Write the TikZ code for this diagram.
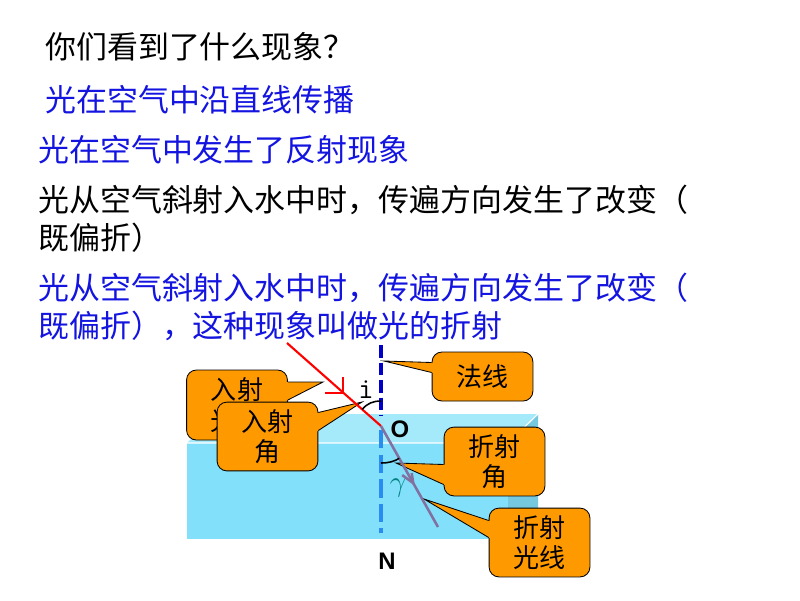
\documentclass[tikz,border=0pt]{standalone}
\usepackage{fontspec}
\setsansfont{Liberation Sans}
\newfontfamily\cjk{Noto Sans CJK SC}
\usetikzlibrary{calc}

\definecolor{calloutorange}{RGB}{255,153,0}
\definecolor{textblue}{RGB}{20,20,225}
\definecolor{waterfront}{RGB}{130,224,250}
\definecolor{watertop}{RGB}{165,234,250}
\definecolor{waterside}{RGB}{118,200,222}
\definecolor{normaldark}{RGB}{0,0,200}
\definecolor{normallight}{RGB}{40,140,240}
\definecolor{refractray}{RGB}{130,112,160}
\definecolor{gammateal}{RGB}{0,128,128}

% wedge of a callout: tip, then the two points on the box edge
\newcommand{\callpointer}[3]{%
  \fill[calloutorange] (#1) -- ($(#1)!1.12!(#2)$) -- ($(#1)!1.12!(#3)$) -- cycle;
  \draw[black,line width=0.6pt] (#2) -- (#1) -- (#3);
}

\begin{document}
\begin{tikzpicture}[x=0.025cm,y=-0.025cm,
    maintext/.style={anchor=west,inner sep=0pt,align=left,font=\cjk\fontsize{22}{27}\selectfont},
    callbox/.style={draw=black,line width=0.6pt,fill=calloutorange,rounded corners=7pt,
      minimum width=2.52cm,minimum height=1.72cm,inner sep=0pt,align=center,
      font=\cjk\fontsize{18.5}{21.5}\selectfont},
    normalline/.style={line width=2.3pt},
    incray/.style={red,line width=1.5pt},
    refray/.style={refractray,line width=1.8pt},
    anglearc/.style={black,line width=1.1pt},
    axislabel/.style={font=\sffamily\bfseries\fontsize{17}{20}\selectfont}]

    \fill[white] (0,0) rectangle (800,600);
    \useasboundingbox (0,0) rectangle (800,600);

    \node (q1) at (45,47) [maintext] {你们看到了什么现象？};
    \node (a1) at (45,100) [maintext,text=textblue] {光在空气中沿直线传播};
    \node (a2) at (38,150) [maintext,text=textblue] {光在空气中发生了反射现象};
    \node (a3) at (38,219) [maintext] {光从空气斜射入水中时，传遍方向发生了改变（\\既偏折）};
    \node (a4) at (38,306.5) [maintext,text=textblue] {光从空气斜射入水中时，传遍方向发生了改变（\\既偏折），这种现象叫做光的折射};

    % the water
    \fill[waterfront] (187,443) rectangle (508,539);
    \fill[watertop] (187,443) -- (217,414) -- (538,414) -- (508,443) -- cycle;
    \fill[waterside] (508,443) -- (538,414) -- (538,510) -- (508,539) -- cycle;
    \draw[white,line width=0.8pt] (187,443) -- (508,443) -- (538,414);

    % callouts
    \node (rsgx) at (237,405) [callbox,minimum height=1.75cm] {入射\\光线};
    \coordinate (rsgxtip) at (323,382);
    \coordinate (rsgxa) at ($(rsgx.east)+(0,-23)$);
    \coordinate (rsgxb) at ($(rsgx.east)+(0,-5)$);
    \callpointer{rsgxtip}{rsgxa}{rsgxb}

    \node (rsj) at (267.5,436.5) [callbox] {入射\\角};
    \coordinate (rsjtip) at (362,402);
    \coordinate (rsja) at ($(rsj.east)+(0,-24)$);
    \coordinate (rsjb) at ($(rsj.east)+(0,-6)$);
    \callpointer{rsjtip}{rsja}{rsjb}

    \node (fx) at (482.5,376.5) [callbox,minimum height=1.225cm] {法线};
    \coordinate (fxtip) at (384,361);
    \coordinate (fxa) at ($(fx.west)+(0,-14)$);
    \coordinate (fxb) at ($(fx.west)+(0,-4)$);
    \callpointer{fxtip}{fxa}{fxb}

    \node (zsj) at (494.5,461.5) [callbox] {折射\\角};
    \coordinate (zsjtip) at (396,463);
    \coordinate (zsja) at ($(zsj.west)+(0,3)$);
    \coordinate (zsjb) at ($(zsj.west)+(0,23)$);
    \callpointer{zsjtip}{zsja}{zsjb}

    \node (zsgx) at (539.5,542.5) [callbox] {折射\\光线};
    \coordinate (zsgxtip) at (424,499);
    \coordinate (zsgxa) at ($(zsgx.west)+(0,-22)$);
    \coordinate (zsgxb) at ($(zsgx.west)+(0,-5)$);
    \callpointer{zsgxtip}{zsgxa}{zsgxb}

    % the normal
    \coordinate (O) at (381,426);
    \coordinate (ntop) at (381,345);
    \coordinate (nsurf) at (381,416);
    \coordinate (nwater) at (381,430);
    \coordinate (nbot) at (381,533);
    \draw[normalline,normaldark,dash pattern=on 9pt off 3.5pt] (ntop) -- (nsurf);
    \draw[normalline,normallight,dash pattern=on 13pt off 4.5pt] (nwater) -- (nbot);

    % the rays
    \coordinate (rs) at (287,343);
    \coordinate (re) at (438,527);
    \draw[incray] (rs) -- (O);
    \draw[refray] (O) -- (re);
    \coordinate (rtip) at ($(rs)!0.6!(O)$);
    \draw[incray] ($(rtip)+(-18,0)$) -- (rtip) -- ($(rtip)+(0,-16)$);
    \coordinate (gtip) at ($(O)!0.565!(re)$);
    \draw[refray] ($(gtip)+(-11,-8)$) -- (gtip) -- ($(gtip)+(-1.5,-10)$);

    % angles
    \coordinate (ia) at ($(O)!0.2!(rs)$);
    \coordinate (ib) at (381,401);
    \draw[anglearc] (ia) .. controls +(5,-6) and +(-8,0) .. (ib);
    \coordinate (ga) at (381,463);
    \coordinate (gb) at ($(O)!0.32!(re)$);
    \draw[anglearc] (ga) .. controls +(8,0) and +(-5,3) .. (gb);

    \node (ilabel) at (366,390) {\ttfamily\fontsize{21}{21}\selectfont i};
    \node (glabel) at (398,488) [text=gammateal] {\fontsize{20}{20}\selectfont$\gamma$};
    \node (Olabel) at (400,429) [axislabel] {O};
    \node (Nlabel) at (387,561) [axislabel] {N};

\end{tikzpicture}
\end{document}
